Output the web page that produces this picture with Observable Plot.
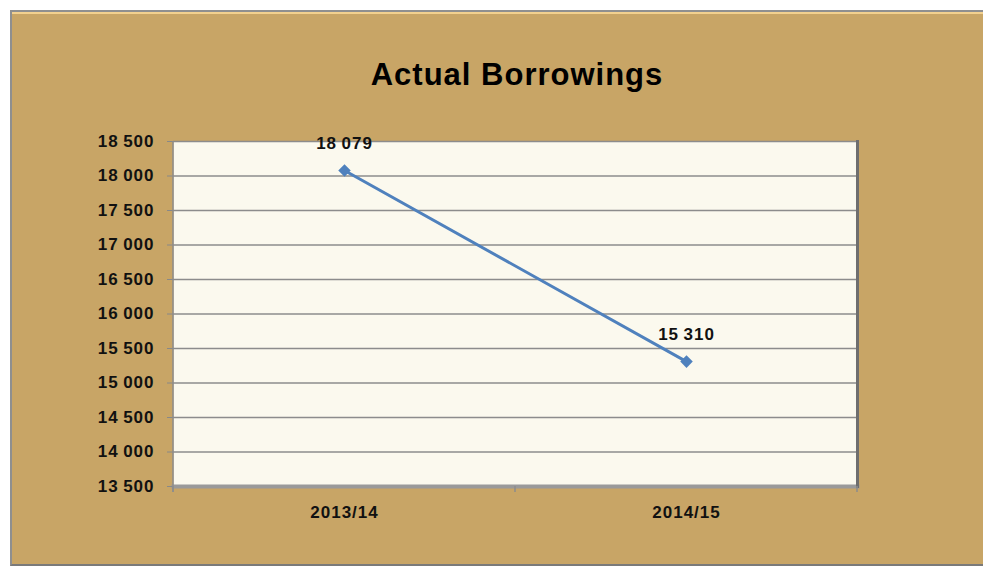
<!DOCTYPE html>
<html>
<head>
<meta charset="utf-8">
<script src="https://cdn.jsdelivr.net/npm/d3@7"></script>
<script src="https://cdn.jsdelivr.net/npm/@observablehq/plot@0.6"></script>
<style>
  html, body { margin: 0; padding: 0; background: #ffffff; width: 983px; height: 567px; overflow: hidden; }
  #frame {
    position: absolute; left: 10px; top: 10px; width: 980px; height: 552px;
    background: #c8a566;
    border-top: 2px solid #8f8f8f; border-left: 2px solid #8f8f8f; border-bottom: 2px solid #7a7a7a;
    box-shadow: inset 0 2px 0 #f2d08e;
  }
  #title {
    position: absolute; left: 0; width: 1034px; top: 57px; text-align: center;
    font-family: "Liberation Sans", Arial, sans-serif; font-weight: bold; font-size: 31px; letter-spacing: 1px; color: #000;
  }
  #chart { position: absolute; left: 0; top: 0; }
  #chart svg text { letter-spacing: 1px; }
</style>
</head>
<body>
<div id="frame"></div>
<div id="title">Actual Borrowings</div>
<div id="chart"></div>
<script>
const periods = ["2013/14", "2014/15"];
const borrowings = [18079, 15310];
const yTicks = [13500, 14000, 14500, 15000, 15500, 16000, 16500, 17000, 17500, 18000, 18500];

const data = periods.map((p, i) => ({period: p, value: borrowings[i]}));
const fmt = d3.formatLocale({decimal: ".", thousands: "\u2009", grouping: [3], currency: ["", ""]}).format(",d");

const chart = Plot.plot({
  width: 983,
  height: 567,
  marginLeft: 173,
  marginRight: 126,
  marginTop: 141,
  marginBottom: 81,
  style: {background: "transparent", fontFamily: "'Liberation Sans', Arial, sans-serif", fontWeight: "bold", fontSize: "17px", color: "#111"},
  x: {type: "band", domain: periods, padding: 0, label: null, tickSize: 0, tickPadding: 19},
  y: {domain: [13500, 18500], ticks: yTicks, tickFormat: fmt, label: null},
  marks: [
    Plot.frame({fill: "#fbf9ee", stroke: null}),
    Plot.ruleY(yTicks.slice(1), {stroke: "#8c8c8c", strokeWidth: 1.6}),
    Plot.frame({anchor: "bottom", stroke: "#9a9a9a", strokeWidth: 4}),
    Plot.frame({anchor: "right", stroke: "#6e6e6e", strokeWidth: 3}),
    Plot.axisY({ticks: yTicks, tickFormat: fmt, tickSize: 6, tickPadding: 13, stroke: "#888", fontSize: 17}),
    Plot.axisX({tickSize: 0, tickPadding: 19, fontSize: 17}),
    Plot.line(data, {x: "period", y: "value", stroke: "#4f81bd", strokeWidth: 3}),
    Plot.dot(data, {x: "period", y: "value", symbol: "square", rotate: 45, r: 5, fill: "#4f81bd", stroke: null}),
    Plot.text(data, {x: "period", y: "value", text: d => fmt(d.value), dy: -27, fill: "#111", fontWeight: "bold", fontSize: 17})
  ]
});
document.getElementById("chart").appendChild(chart);

// y-axis line and category boundary ticks (positions from the scales)
const svg = d3.select(chart);
const xs = chart.scale("x"), ys = chart.scale("y");
const x0 = xs.apply(periods[0]);
const bw = xs.bandwidth;
const yBottom = ys.apply(13500), yTop = ys.apply(18500);
svg.append("line").attr("x1", x0).attr("x2", x0).attr("y1", yTop).attr("y2", yBottom + 6).attr("stroke", "#8c8c8c").attr("stroke-width", 1.5);
[0, 1, 2].forEach(i => {
  const xx = x0 + i * bw;
  svg.append("line").attr("x1", xx).attr("x2", xx).attr("y1", yBottom).attr("y2", yBottom + 6).attr("stroke", "#8c8c8c").attr("stroke-width", 1.5);
});
</script>
</body>
</html>
